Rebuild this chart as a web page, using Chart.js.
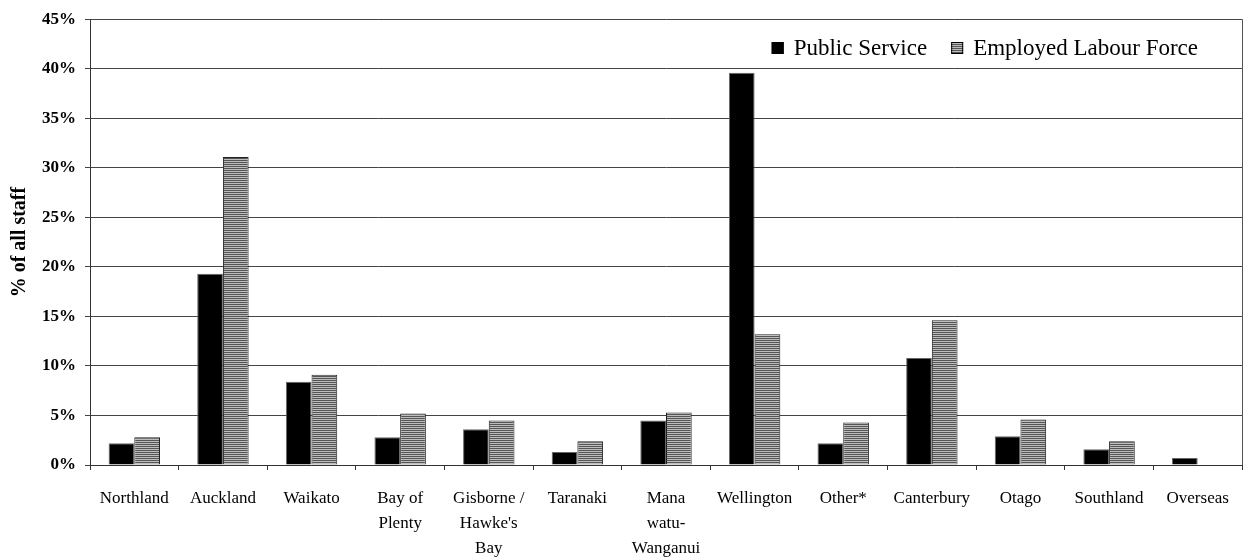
<!DOCTYPE html>
<html>
<head>
<meta charset="utf-8">
<script src="https://cdn.jsdelivr.net/npm/chart.js@4/dist/chart.umd.min.js"></script>
<style>
  html, body { margin: 0; padding: 0; background: #fff; }
  #wrap { width: 1252px; height: 558px; position: relative; }
</style>
</head>
<body>
<div id="wrap"><canvas id="c" width="1252" height="558"></canvas></div>
<script>
const categories = [
  "Northland", "Auckland", "Waikato", ["Bay of", "Plenty"],
  ["Gisborne /", "Hawke's", "Bay"], "Taranaki", ["Mana", "watu-", "Wanganui"],
  "Wellington", "Other*", "Canterbury", "Otago", "Southland", "Overseas"
];
const publicService = [2.2, 19.3, 8.4, 2.8, 3.6, 1.3, 4.5, 39.6, 2.2, 10.8, 2.9, 1.6, 0.7];
const employedLabourForce = [2.8, 31.1, 9.1, 5.2, 4.5, 2.4, 5.3, 13.2, 4.3, 14.6, 4.6, 2.4, 0];
const seriesNames = ["Public Service", "Employed Labour Force"];
const yTicks = [0, 5, 10, 15, 20, 25, 30, 35, 40, 45];
const yTitle = "% of all staff";

const FONT = "'Liberation Serif', 'Times New Roman', serif";

function stripePattern() {
  const c = document.createElement('canvas');
  c.width = 4; c.height = 2;
  const g = c.getContext('2d');
  g.fillStyle = '#555555'; g.fillRect(0, 0, 4, 1);
  g.fillStyle = '#bdbdbd'; g.fillRect(0, 1, 4, 1);
  return g.createPattern(c, 'repeat');
}
const ctx = document.getElementById('c').getContext('2d');
const stripes = stripePattern();

const legendPlugin = {
  id: 'customLegend',
  afterDraw(chart) {
    const g = chart.ctx;
    const area = chart.chartArea;
    g.save();
    g.font = "23px " + FONT;
    g.textBaseline = 'middle';
    const box = 12, gapBoxText = 10, gapItems = 24;
    const items = chart.data.datasets.map(d => ({label: d.label, fill: d.backgroundColor}));
    let total = 0;
    items.forEach((it, i) => { it.w = g.measureText(it.label).width; total += box + gapBoxText + it.w + (i ? gapItems : 0); });
    let x = area.right - 44 - total;
    const y = 48;
    items.forEach((it, i) => {
      if (i) x += gapItems;
      g.fillStyle = it.fill;
      g.fillRect(x, y - box / 2, box, box);
      g.lineWidth = 1; g.strokeStyle = '#000';
      g.strokeRect(x + 0.5, y - box / 2 + 0.5, box - 1, box - 1);
      x += box + gapBoxText;
      g.fillStyle = '#000';
      g.fillText(it.label, x, y + 1);
      x += it.w;
    });
    g.restore();
  }
};

const framePlugin = {
  id: 'frame',
  afterDatasetsDraw(chart) {
    const g = chart.ctx, a = chart.chartArea;
    g.save();
    g.strokeStyle = '#555';
    g.lineWidth = 1;
    g.beginPath();
    g.moveTo(Math.round(a.right) + 0.5, a.top);
    g.lineTo(Math.round(a.right) + 0.5, a.bottom);
    g.stroke();
    g.restore();
  }
};

new Chart(ctx, {
  type: 'bar',
  data: {
    labels: categories,
    datasets: [
      { label: seriesNames[0], data: publicService, backgroundColor: '#000000', borderColor: '#666666', borderWidth: 1,
        categoryPercentage: 0.58, barPercentage: 1.0 },
      { label: seriesNames[1], data: employedLabourForce, backgroundColor: stripes, borderColor: '#222222', borderWidth: 1,
        categoryPercentage: 0.58, barPercentage: 1.0 }
    ]
  },
  options: {
    responsive: false,
    animation: false,
    devicePixelRatio: 1,
    layout: { padding: { left: 0, right: 10, top: 19, bottom: 0 } },
    plugins: {
      legend: { display: false },
      tooltip: { enabled: false }
    },
    scales: {
      x: {
        grid: { display: true, drawOnChartArea: false, drawTicks: true, tickLength: 5, color: '#333', offset: true },
        border: { display: true, color: '#333' },
        ticks: { color: '#000', font: { family: FONT, size: 17, lineHeight: 1.47 }, padding: 16, maxRotation: 0, autoSkip: false },
        afterFit(s) { s.height = 93; }
      },
      y: {
        min: 0, max: 45,
        afterBuildTicks(s) { s.ticks = yTicks.map(v => ({ value: v })); },
        grid: { color: '#444', tickLength: 5, drawTicks: true },
        border: { display: true, color: '#333' },
        ticks: { color: '#000', font: { family: FONT, size: 17, weight: 'bold' }, padding: 9,
                 callback: v => v + '%' },
        title: { display: true, text: yTitle, color: '#000', font: { family: FONT, size: 20, weight: 'bold' }, padding: { top: 8, bottom: 0 } },
        afterFit(s) { s.width = 90; }
      }
    }
  },
  plugins: [legendPlugin, framePlugin]
});
</script>
</body>
</html>
